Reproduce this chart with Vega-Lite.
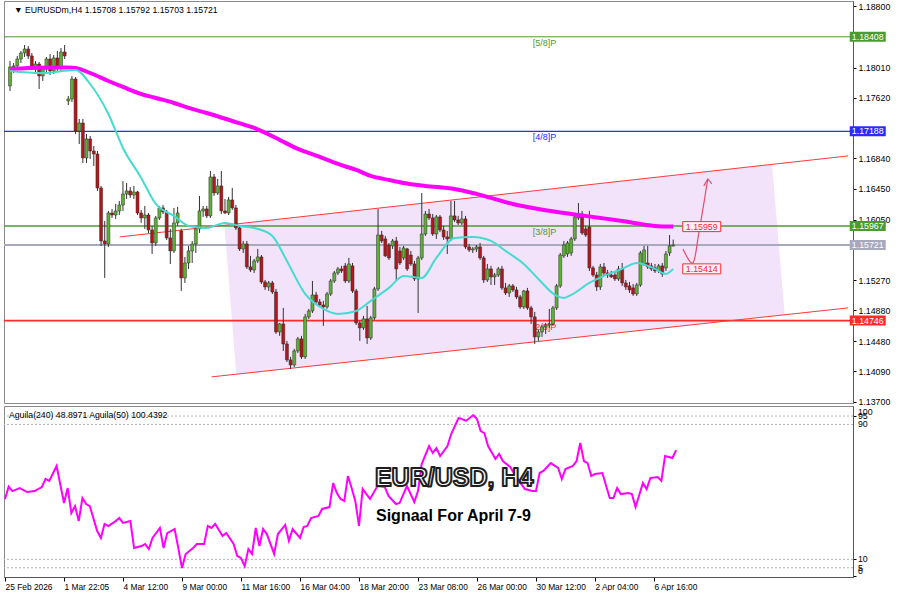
{
"$schema": "https://vega.github.io/schema/vega-lite/v6.json",
"background": "white",
"padding": 0,
"spacing": 3,
"bounds": "flush",
"config": {"view": {"stroke": "#8a8a8a", "strokeWidth": 1}, "font": "Liberation Sans",
 "axis": {"labelOverlap": false, "labelBound": false, "labelFlush": false, "grid": false, "labelColor": "#000000", "tickColor": "#000000", "domainColor": "#555555", "labelFont": "Liberation Sans"}},
"datasets": {
"candles": [
{"i":0,"o":1.17774,"h":1.18096,"l":1.17709,"c":1.18019},
{"i":1,"o":1.18019,"h":1.18070,"l":1.17941,"c":1.18032},
{"i":2,"o":1.18032,"h":1.18161,"l":1.17993,"c":1.18122},
{"i":3,"o":1.18122,"h":1.18225,"l":1.18070,"c":1.18199},
{"i":4,"o":1.18199,"h":1.18302,"l":1.18148,"c":1.18251},
{"i":5,"o":1.18251,"h":1.18290,"l":1.18122,"c":1.18161},
{"i":6,"o":1.18161,"h":1.18199,"l":1.17980,"c":1.18019},
{"i":7,"o":1.18019,"h":1.18096,"l":1.17954,"c":1.18057},
{"i":8,"o":1.18057,"h":1.18083,"l":1.17735,"c":1.17903},
{"i":9,"o":1.17903,"h":1.18019,"l":1.17838,"c":1.17993},
{"i":10,"o":1.17993,"h":1.18148,"l":1.17928,"c":1.18122},
{"i":11,"o":1.18122,"h":1.18186,"l":1.17915,"c":1.17967},
{"i":12,"o":1.17967,"h":1.18173,"l":1.17928,"c":1.18135},
{"i":13,"o":1.18135,"h":1.18225,"l":1.17967,"c":1.18019},
{"i":14,"o":1.18019,"h":1.18264,"l":1.17967,"c":1.18212},
{"i":15,"o":1.18212,"h":1.18302,"l":1.18122,"c":1.18161},
{"i":16,"o":1.17580,"h":1.17645,"l":1.17528,"c":1.17606},
{"i":17,"o":1.17606,"h":1.17903,"l":1.17567,"c":1.17864},
{"i":18,"o":1.17864,"h":1.17890,"l":1.17154,"c":1.17193},
{"i":19,"o":1.17193,"h":1.17348,"l":1.17025,"c":1.17296},
{"i":20,"o":1.17296,"h":1.17348,"l":1.16780,"c":1.16845},
{"i":21,"o":1.16845,"h":1.17154,"l":1.16780,"c":1.17090},
{"i":22,"o":1.17090,"h":1.17129,"l":1.16832,"c":1.16935},
{"i":23,"o":1.16935,"h":1.16999,"l":1.16742,"c":1.16896},
{"i":24,"o":1.16896,"h":1.16935,"l":1.16419,"c":1.16458},
{"i":25,"o":1.16458,"h":1.16484,"l":1.15710,"c":1.15774},
{"i":26,"o":1.15774,"h":1.16032,"l":1.15297,"c":1.15735},
{"i":27,"o":1.15735,"h":1.16161,"l":1.15697,"c":1.16135},
{"i":28,"o":1.16135,"h":1.16187,"l":1.16071,"c":1.16109},
{"i":29,"o":1.16109,"h":1.16251,"l":1.16058,"c":1.16161},
{"i":30,"o":1.16161,"h":1.16290,"l":1.16109,"c":1.16238},
{"i":31,"o":1.16238,"h":1.16548,"l":1.16161,"c":1.16380},
{"i":32,"o":1.16380,"h":1.16522,"l":1.16316,"c":1.16419},
{"i":33,"o":1.16419,"h":1.16471,"l":1.16329,"c":1.16367},
{"i":34,"o":1.16367,"h":1.16484,"l":1.16316,"c":1.16406},
{"i":35,"o":1.16406,"h":1.16419,"l":1.16109,"c":1.16135},
{"i":36,"o":1.16135,"h":1.16174,"l":1.16006,"c":1.16071},
{"i":37,"o":1.16071,"h":1.16226,"l":1.15929,"c":1.16109},
{"i":38,"o":1.16109,"h":1.16135,"l":1.15877,"c":1.15916},
{"i":39,"o":1.15916,"h":1.15968,"l":1.15606,"c":1.15748},
{"i":40,"o":1.15748,"h":1.16097,"l":1.15710,"c":1.16071},
{"i":41,"o":1.16071,"h":1.16226,"l":1.16045,"c":1.16200},
{"i":42,"o":1.16200,"h":1.16238,"l":1.16122,"c":1.16148},
{"i":43,"o":1.16148,"h":1.16174,"l":1.15787,"c":1.15813},
{"i":44,"o":1.15813,"h":1.15929,"l":1.15477,"c":1.15645},
{"i":45,"o":1.15645,"h":1.16200,"l":1.15619,"c":1.16006},
{"i":46,"o":1.16006,"h":1.16213,"l":1.15968,"c":1.16135},
{"i":47,"o":1.15903,"h":1.15929,"l":1.15129,"c":1.15297},
{"i":48,"o":1.15297,"h":1.15568,"l":1.15232,"c":1.15490},
{"i":49,"o":1.15490,"h":1.15710,"l":1.15413,"c":1.15645},
{"i":50,"o":1.15645,"h":1.15774,"l":1.15490,"c":1.15735},
{"i":51,"o":1.15735,"h":1.15968,"l":1.15619,"c":1.15929},
{"i":52,"o":1.15929,"h":1.16355,"l":1.15877,"c":1.16161},
{"i":53,"o":1.16161,"h":1.16226,"l":1.16084,"c":1.16187},
{"i":54,"o":1.16187,"h":1.16226,"l":1.16071,"c":1.16097},
{"i":55,"o":1.16097,"h":1.16677,"l":1.16071,"c":1.16600},
{"i":56,"o":1.16600,"h":1.16638,"l":1.16355,"c":1.16393},
{"i":57,"o":1.16393,"h":1.16574,"l":1.16367,"c":1.16484},
{"i":58,"o":1.16484,"h":1.16677,"l":1.16122,"c":1.16161},
{"i":59,"o":1.16161,"h":1.16316,"l":1.16122,"c":1.16135},
{"i":60,"o":1.16135,"h":1.16342,"l":1.16109,"c":1.16303},
{"i":61,"o":1.16303,"h":1.16458,"l":1.16174,"c":1.16200},
{"i":62,"o":1.16200,"h":1.16238,"l":1.15916,"c":1.15942},
{"i":63,"o":1.15942,"h":1.15980,"l":1.15645,"c":1.15671},
{"i":64,"o":1.15671,"h":1.15774,"l":1.15619,"c":1.15735},
{"i":65,"o":1.15735,"h":1.15774,"l":1.15413,"c":1.15439},
{"i":66,"o":1.15439,"h":1.15581,"l":1.15374,"c":1.15400},
{"i":67,"o":1.15400,"h":1.15542,"l":1.15361,"c":1.15516},
{"i":68,"o":1.15516,"h":1.15671,"l":1.15490,"c":1.15568},
{"i":69,"o":1.15568,"h":1.15593,"l":1.15219,"c":1.15245},
{"i":70,"o":1.15245,"h":1.15271,"l":1.15142,"c":1.15181},
{"i":71,"o":1.15181,"h":1.15258,"l":1.15129,"c":1.15232},
{"i":72,"o":1.15232,"h":1.15258,"l":1.15090,"c":1.15116},
{"i":73,"o":1.15116,"h":1.15155,"l":1.14574,"c":1.14600},
{"i":74,"o":1.14600,"h":1.14716,"l":1.14549,"c":1.14703},
{"i":75,"o":1.14703,"h":1.14910,"l":1.14355,"c":1.14445},
{"i":76,"o":1.14445,"h":1.14484,"l":1.14213,"c":1.14239},
{"i":77,"o":1.14239,"h":1.14278,"l":1.14123,"c":1.14174},
{"i":78,"o":1.14174,"h":1.14381,"l":1.14149,"c":1.14355},
{"i":79,"o":1.14355,"h":1.14536,"l":1.14329,"c":1.14510},
{"i":80,"o":1.14510,"h":1.14549,"l":1.14252,"c":1.14278},
{"i":81,"o":1.14278,"h":1.14832,"l":1.14252,"c":1.14794},
{"i":82,"o":1.14794,"h":1.14897,"l":1.14768,"c":1.14871},
{"i":83,"o":1.14871,"h":1.15258,"l":1.14845,"c":1.15077},
{"i":84,"o":1.15077,"h":1.15116,"l":1.14961,"c":1.14987},
{"i":85,"o":1.14987,"h":1.15026,"l":1.14923,"c":1.14948},
{"i":86,"o":1.14948,"h":1.15000,"l":1.14678,"c":1.14923},
{"i":87,"o":1.14923,"h":1.15116,"l":1.14897,"c":1.15090},
{"i":88,"o":1.15090,"h":1.15284,"l":1.15065,"c":1.15258},
{"i":89,"o":1.15258,"h":1.15387,"l":1.15232,"c":1.15361},
{"i":90,"o":1.15361,"h":1.15439,"l":1.15335,"c":1.15413},
{"i":91,"o":1.15413,"h":1.15452,"l":1.15361,"c":1.15387},
{"i":92,"o":1.15452,"h":1.15490,"l":1.15232,"c":1.15258},
{"i":93,"o":1.15258,"h":1.15555,"l":1.15232,"c":1.15477},
{"i":94,"o":1.15452,"h":1.15490,"l":1.15103,"c":1.15129},
{"i":95,"o":1.15129,"h":1.15155,"l":1.14690,"c":1.14716},
{"i":96,"o":1.14716,"h":1.14742,"l":1.14484,"c":1.14652},
{"i":97,"o":1.14652,"h":1.14807,"l":1.14626,"c":1.14768},
{"i":98,"o":1.14768,"h":1.14936,"l":1.14445,"c":1.14523},
{"i":99,"o":1.14523,"h":1.14807,"l":1.14497,"c":1.14781},
{"i":100,"o":1.14781,"h":1.15181,"l":1.14755,"c":1.15155},
{"i":101,"o":1.15155,"h":1.16187,"l":1.15129,"c":1.15851},
{"i":102,"o":1.15851,"h":1.15903,"l":1.15748,"c":1.15774},
{"i":103,"o":1.15800,"h":1.15839,"l":1.15568,"c":1.15581},
{"i":104,"o":1.15722,"h":1.15748,"l":1.15529,"c":1.15555},
{"i":105,"o":1.15710,"h":1.15800,"l":1.15671,"c":1.15774},
{"i":106,"o":1.15774,"h":1.15826,"l":1.15258,"c":1.15413},
{"i":107,"o":1.15645,"h":1.15697,"l":1.15464,"c":1.15490},
{"i":108,"o":1.15555,"h":1.15710,"l":1.15529,"c":1.15684},
{"i":109,"o":1.15671,"h":1.15684,"l":1.15387,"c":1.15413},
{"i":110,"o":1.15593,"h":1.15645,"l":1.15452,"c":1.15477},
{"i":111,"o":1.15477,"h":1.15516,"l":1.15258,"c":1.15284},
{"i":112,"o":1.15284,"h":1.15581,"l":1.14845,"c":1.15555},
{"i":113,"o":1.15555,"h":1.16393,"l":1.15529,"c":1.15864},
{"i":114,"o":1.15864,"h":1.16161,"l":1.15839,"c":1.16122},
{"i":115,"o":1.16122,"h":1.16187,"l":1.16045,"c":1.16071},
{"i":116,"o":1.16071,"h":1.16122,"l":1.15839,"c":1.15864},
{"i":117,"o":1.15864,"h":1.16109,"l":1.15800,"c":1.16084},
{"i":118,"o":1.16084,"h":1.16109,"l":1.15890,"c":1.15916},
{"i":119,"o":1.15916,"h":1.15968,"l":1.15787,"c":1.15826},
{"i":120,"o":1.15826,"h":1.15903,"l":1.15606,"c":1.15800},
{"i":121,"o":1.15800,"h":1.16290,"l":1.15774,"c":1.16097},
{"i":122,"o":1.16097,"h":1.16290,"l":1.16019,"c":1.16045},
{"i":123,"o":1.16045,"h":1.16097,"l":1.15980,"c":1.16006},
{"i":124,"o":1.16006,"h":1.16161,"l":1.15980,"c":1.16058},
{"i":125,"o":1.16058,"h":1.16097,"l":1.15671,"c":1.15697},
{"i":126,"o":1.15697,"h":1.15735,"l":1.15632,"c":1.15658},
{"i":127,"o":1.15658,"h":1.15697,"l":1.15619,"c":1.15671},
{"i":128,"o":1.15671,"h":1.15722,"l":1.15632,"c":1.15697},
{"i":129,"o":1.15697,"h":1.15748,"l":1.15529,"c":1.15555},
{"i":130,"o":1.15555,"h":1.15581,"l":1.15232,"c":1.15271},
{"i":131,"o":1.15271,"h":1.15477,"l":1.15245,"c":1.15413},
{"i":132,"o":1.15413,"h":1.15452,"l":1.15206,"c":1.15310},
{"i":133,"o":1.15310,"h":1.15361,"l":1.15206,"c":1.15335},
{"i":134,"o":1.15335,"h":1.15439,"l":1.15310,"c":1.15413},
{"i":135,"o":1.15413,"h":1.15452,"l":1.15142,"c":1.15168},
{"i":136,"o":1.15168,"h":1.15232,"l":1.15077,"c":1.15103},
{"i":137,"o":1.15103,"h":1.15219,"l":1.15052,"c":1.15194},
{"i":138,"o":1.15194,"h":1.15219,"l":1.15116,"c":1.15142},
{"i":139,"o":1.15142,"h":1.15181,"l":1.15026,"c":1.15052},
{"i":140,"o":1.15052,"h":1.15077,"l":1.14897,"c":1.14923},
{"i":141,"o":1.14923,"h":1.15142,"l":1.14897,"c":1.15129},
{"i":142,"o":1.15129,"h":1.15168,"l":1.14884,"c":1.14910},
{"i":143,"o":1.14910,"h":1.14936,"l":1.14703,"c":1.14794},
{"i":144,"o":1.14794,"h":1.14858,"l":1.14445,"c":1.14536},
{"i":145,"o":1.14536,"h":1.14626,"l":1.14484,"c":1.14600},
{"i":146,"o":1.14600,"h":1.14690,"l":1.14536,"c":1.14665},
{"i":147,"o":1.14665,"h":1.14716,"l":1.14574,"c":1.14690},
{"i":148,"o":1.14690,"h":1.14897,"l":1.14652,"c":1.14703},
{"i":149,"o":1.14703,"h":1.14936,"l":1.14678,"c":1.14910},
{"i":150,"o":1.14910,"h":1.15219,"l":1.14884,"c":1.15194},
{"i":151,"o":1.15194,"h":1.15619,"l":1.15168,"c":1.15593},
{"i":152,"o":1.15581,"h":1.15774,"l":1.15555,"c":1.15722},
{"i":153,"o":1.15606,"h":1.15774,"l":1.15568,"c":1.15748},
{"i":154,"o":1.15619,"h":1.15826,"l":1.15581,"c":1.15800},
{"i":155,"o":1.15800,"h":1.16109,"l":1.15774,"c":1.16084},
{"i":156,"o":1.16071,"h":1.16264,"l":1.16045,"c":1.16122},
{"i":157,"o":1.16122,"h":1.16161,"l":1.15851,"c":1.15877},
{"i":158,"o":1.15929,"h":1.15968,"l":1.15826,"c":1.15851},
{"i":159,"o":1.15955,"h":1.16161,"l":1.15387,"c":1.15426},
{"i":160,"o":1.15426,"h":1.15452,"l":1.15310,"c":1.15335},
{"i":161,"o":1.15335,"h":1.15374,"l":1.15129,"c":1.15181},
{"i":162,"o":1.15181,"h":1.15477,"l":1.15142,"c":1.15439},
{"i":163,"o":1.15439,"h":1.15490,"l":1.15323,"c":1.15361},
{"i":164,"o":1.15361,"h":1.15400,"l":1.15297,"c":1.15335},
{"i":165,"o":1.15335,"h":1.15387,"l":1.15297,"c":1.15310},
{"i":166,"o":1.15335,"h":1.15387,"l":1.15258,"c":1.15284},
{"i":167,"o":1.15284,"h":1.15452,"l":1.15258,"c":1.15413},
{"i":168,"o":1.15413,"h":1.15490,"l":1.15194,"c":1.15232},
{"i":169,"o":1.15232,"h":1.15271,"l":1.15142,"c":1.15181},
{"i":170,"o":1.15194,"h":1.15245,"l":1.15103,"c":1.15142},
{"i":171,"o":1.15168,"h":1.15219,"l":1.15065,"c":1.15090},
{"i":172,"o":1.15090,"h":1.15232,"l":1.15065,"c":1.15206},
{"i":173,"o":1.15206,"h":1.15645,"l":1.15181,"c":1.15619},
{"i":174,"o":1.15477,"h":1.15710,"l":1.15452,"c":1.15658},
{"i":175,"o":1.15490,"h":1.15710,"l":1.15413,"c":1.15439},
{"i":176,"o":1.15452,"h":1.15490,"l":1.15387,"c":1.15413},
{"i":177,"o":1.15426,"h":1.15477,"l":1.15361,"c":1.15387},
{"i":178,"o":1.15387,"h":1.15477,"l":1.15361,"c":1.15452},
{"i":179,"o":1.15452,"h":1.15490,"l":1.15310,"c":1.15348},
{"i":180,"o":1.15426,"h":1.15645,"l":1.15387,"c":1.15606},
{"i":181,"o":1.15619,"h":1.15851,"l":1.15581,"c":1.15710},
{"i":182,"o":1.15708,"h":1.15792,"l":1.15703,"c":1.15721}
],
"ma240": [
{"i":0,"v":1.17993},{"i":5,"v":1.18006},{"i":11,"v":1.18012},{"i":16,"v":1.18012},{"i":18,"v":1.18006},{"i":22,"v":1.17941},{"i":27,"v":1.17838},{"i":31,"v":1.17761},{"i":36,"v":1.17670},{"i":40,"v":1.17619},{"i":45,"v":1.17554},{"i":49,"v":1.17490},{"i":54,"v":1.17425},{"i":61,"v":1.17322},{"i":67,"v":1.17232},{"i":73,"v":1.17103},{"i":79,"v":1.16961},{"i":85,"v":1.16858},{"i":90,"v":1.16767},{"i":95,"v":1.16690},{"i":99,"v":1.16613},{"i":104,"v":1.16561},{"i":108,"v":1.16522},{"i":114,"v":1.16484},{"i":122,"v":1.16445},{"i":127,"v":1.16393},{"i":132,"v":1.16329},{"i":138,"v":1.16251},{"i":145,"v":1.16187},{"i":154,"v":1.16122},{"i":162,"v":1.16071},{"i":168,"v":1.16032},{"i":177,"v":1.15968},{"i":182,"v":1.15959}
],
"ma50": [
{"i":0,"v":1.17967},{"i":9,"v":1.17941},{"i":18,"v":1.17980},{"i":22,"v":1.17799},{"i":27,"v":1.17412},{"i":31,"v":1.16974},{"i":36,"v":1.16587},{"i":40,"v":1.16251},{"i":45,"v":1.16097},{"i":49,"v":1.15968},{"i":54,"v":1.15942},{"i":59,"v":1.16006},{"i":63,"v":1.15968},{"i":68,"v":1.15929},{"i":72,"v":1.15839},{"i":76,"v":1.15516},{"i":81,"v":1.15090},{"i":86,"v":1.14897},{"i":90,"v":1.14832},{"i":95,"v":1.14871},{"i":99,"v":1.15000},{"i":104,"v":1.15168},{"i":108,"v":1.15323},{"i":113,"v":1.15297},{"i":117,"v":1.15555},{"i":122,"v":1.15813},{"i":127,"v":1.15826},{"i":132,"v":1.15774},{"i":136,"v":1.15645},{"i":141,"v":1.15477},{"i":145,"v":1.15284},{"i":150,"v":1.15065},{"i":152,"v":1.15039},{"i":154,"v":1.15077},{"i":159,"v":1.15232},{"i":163,"v":1.15323},{"i":168,"v":1.15413},{"i":172,"v":1.15490},{"i":177,"v":1.15413},{"i":180,"v":1.15348},{"i":182,"v":1.15414}
],
"aguila": [
{"i":0,"v":45.8},{"i":1,"v":53.1},{"i":2,"v":50.5},{"i":4,"v":52.3},{"i":6,"v":49.9},{"i":8,"v":50.5},{"i":10,"v":52.9},{"i":11,"v":57.7},{"i":12,"v":56.5},{"i":14,"v":65.4},{"i":16,"v":43.4},{"i":17,"v":52.3},{"i":18,"v":37.5},{"i":19,"v":41.6},{"i":20,"v":32.7},{"i":21,"v":46.4},{"i":22,"v":42.8},{"i":23,"v":41.6},{"i":25,"v":26.8},{"i":26,"v":22.7},{"i":27,"v":31.0},{"i":28,"v":29.8},{"i":30,"v":32.7},{"i":31,"v":34.5},{"i":32,"v":31.6},{"i":34,"v":32.7},{"i":35,"v":16.7},{"i":37,"v":17.9},{"i":38,"v":19.1},{"i":39,"v":16.1},{"i":40,"v":22.7},{"i":42,"v":28.6},{"i":43,"v":16.7},{"i":44,"v":25.6},{"i":46,"v":28.0},{"i":47,"v":16.7},{"i":48,"v":4.9},{"i":49,"v":13.2},{"i":51,"v":16.7},{"i":52,"v":19.1},{"i":54,"v":19.1},{"i":55,"v":29.8},{"i":56,"v":28.6},{"i":57,"v":31.0},{"i":59,"v":23.8},{"i":60,"v":25.6},{"i":62,"v":19.1},{"i":63,"v":12.0},{"i":64,"v":10.8},{"i":65,"v":6.0},{"i":66,"v":16.1},{"i":67,"v":13.2},{"i":68,"v":28.6},{"i":69,"v":17.9},{"i":70,"v":28.0},{"i":71,"v":25.0},{"i":73,"v":13.2},{"i":74,"v":25.0},{"i":76,"v":30.4},{"i":77,"v":20.9},{"i":78,"v":28.0},{"i":80,"v":22.7},{"i":81,"v":29.2},{"i":82,"v":29.8},{"i":83,"v":34.5},{"i":85,"v":35.7},{"i":86,"v":39.9},{"i":88,"v":41.0},{"i":89,"v":55.3},{"i":90,"v":49.3},{"i":91,"v":45.8},{"i":92,"v":44.6},{"i":93,"v":59.4},{"i":94,"v":52.3},{"i":95,"v":44.6},{"i":96,"v":29.8},{"i":97,"v":51.7},{"i":99,"v":45.8},{"i":101,"v":53.5},{"i":103,"v":52.9},{"i":104,"v":47.6},{"i":106,"v":42.8},{"i":107,"v":43.4},{"i":109,"v":53.5},{"i":111,"v":44.0},{"i":112,"v":50.5},{"i":113,"v":66.5},{"i":115,"v":77.2},{"i":116,"v":73.1},{"i":117,"v":76.0},{"i":118,"v":71.3},{"i":120,"v":77.2},{"i":121,"v":84.3},{"i":123,"v":93.8},{"i":124,"v":93.2},{"i":125,"v":92.1},{"i":127,"v":95.6},{"i":128,"v":93.2},{"i":129,"v":86.1},{"i":130,"v":84.9},{"i":131,"v":77.2},{"i":133,"v":69.5},{"i":134,"v":72.5},{"i":135,"v":68.3},{"i":137,"v":64.8},{"i":139,"v":57.7},{"i":141,"v":51.7},{"i":143,"v":50.5},{"i":144,"v":50.5},{"i":145,"v":61.2},{"i":146,"v":62.4},{"i":148,"v":67.1},{"i":150,"v":64.2},{"i":151,"v":57.7},{"i":152,"v":63.6},{"i":154,"v":65.4},{"i":155,"v":68.3},{"i":156,"v":79.0},{"i":157,"v":68.3},{"i":158,"v":67.1},{"i":159,"v":59.4},{"i":160,"v":60.6},{"i":162,"v":61.2},{"i":164,"v":46.4},{"i":165,"v":46.4},{"i":166,"v":52.3},{"i":167,"v":48.7},{"i":169,"v":49.3},{"i":170,"v":48.7},{"i":171,"v":41.0},{"i":173,"v":55.3},{"i":174,"v":51.7},{"i":175,"v":58.2},{"i":177,"v":58.8},{"i":178,"v":56.5},{"i":179,"v":71.3},{"i":181,"v":70.1},{"i":182,"v":74.8}
],
"aglevels": [{"lv":100},{"lv":95},{"lv":90},{"lv":10},{"lv":5},{"lv":0}],
"levels": [
{"kind":"5/8","price":1.18408,"label":"[5/8]P"},
{"kind":"4/8","price":1.17188,"label":"[4/8]P"},
{"kind":"3/8","price":1.15967,"label":"[3/8]P"},
{"kind":"2/8","price":1.14746,"label":"[2/8]P"},
{"kind":"cur","price":1.15721,"label":""}
],
"channel": [
{"i":58.85,"top":1.15980,"bottom":1.15980},
{"i":62.1,"top":1.15993,"bottom":1.14048},
{"i":209.1,"top":1.16762,"bottom":1.14804},
{"i":212.6,"top":1.14822,"bottom":1.14822}
],
"chlines": [
{"line":"upper","i":30.1,"price":1.15826},
{"line":"upper","i":229.97,"price":1.16871},
{"line":"lower","i":55.3,"price":1.14020},
{"line":"lower","i":229.97,"price":1.14910}
],
"arrow": [
{"i":184.7,"price":1.15671},
{"i":187.4,"price":1.15490},
{"i":189.0,"price":1.15864},
{"i":191.5,"price":1.16574}
],
"arrowhead": [
{"i":190.4,"price":1.16484},
{"i":191.5,"price":1.16574},
{"i":192.6,"price":1.16509}
],
"malabels": [{"price":1.15959},{"price":1.15414}]
},
"vconcat": [
{
"width": 849,
"height": 402,
"layer": [
{"data":{"name":"channel"},"mark":{"type":"area","color":"#f2e2fa","opacity":1},
 "encoding":{"x":{"field":"i","type":"quantitative","scale":{"domain":[-0.271,229.97],"nice":false,"zero":false},"axis":null},
  "y":{"field":"top","type":"quantitative","scale":{"domain":[1.13683,1.1887],"nice":false,"zero":false},"axis":{"orient":"right","title":null}},
  "y2":{"field":"bottom"}}},
{"data":{"name":"levels"},"mark":{"type":"rule"},
 "encoding":{"y":{"field":"price","type":"quantitative","scale":{"domain":[1.13683,1.1887],"nice":false,"zero":false},"axis":{"orient":"right","title":null}},
  "color":{"field":"kind","type":"nominal","scale":{"domain":["5/8","4/8","3/8","2/8","cur"],"range":["#4c9a32","#2b2bff","#4c9a32","#ff2b2b","#a9a9bd"]},"legend":null},
  "strokeWidth":{"field":"kind","type":"nominal","scale":{"domain":["5/8","4/8","3/8","2/8","cur"],"range":[1,2,1,1,1]},"legend":null}}},
{"data":{"name":"chlines"},"mark":{"type":"line","color":"#ff3a3a","strokeWidth":1},
 "encoding":{"x":{"field":"i","type":"quantitative","scale":{"domain":[-0.271,229.97],"nice":false,"zero":false},"axis":null},
  "y":{"field":"price","type":"quantitative","scale":{"domain":[1.13683,1.1887],"nice":false,"zero":false},"axis":{"orient":"right","title":null}},
  "detail":{"field":"line"}}},
{"data":{"name":"levels"},"transform":[{"filter":"datum.kind != 'cur'"}],
 "mark":{"type":"text","align":"left","baseline":"alphabetic","dy":9,"fontSize":9,"font":"Liberation Sans"},
 "encoding":{"x":{"datum":143.46,"type":"quantitative","scale":{"domain":[-0.271,229.97],"nice":false,"zero":false},"axis":null},
  "y":{"field":"price","type":"quantitative","scale":{"domain":[1.13683,1.1887],"nice":false,"zero":false},"axis":{"orient":"right","title":null}},
  "text":{"field":"label"},
  "color":{"field":"kind","type":"nominal","scale":{"domain":["5/8","4/8","3/8","2/8","cur"],"range":["#4c9a32","#3a3aff","#4c9a32","#ff2b2b","#a9a9bd"]},"legend":null}}},
{"data":{"name":"candles"},"mark":{"type":"rule","color":"#333333","strokeWidth":1},
 "encoding":{"x":{"field":"i","type":"quantitative","scale":{"domain":[-0.271,229.97],"nice":false,"zero":false},"axis":null},
  "y":{"field":"l","type":"quantitative","scale":{"domain":[1.13683,1.1887],"nice":false,"zero":false},
   "axis":{"orient":"right","values":[1.188,1.1801,1.1762,1.1684,1.1645,1.1605,1.1527,1.1488,1.1448,1.1409,1.137],"format":".5f","title":null,"grid":false,"labelFontSize":8.8,"labelColor":"#000000","labelFont":"Liberation Sans","tickSize":3,"tickColor":"#000000","domainColor":"#555555","labelPadding":2,"labelOverlap":false,"labelBound":false,"labelFlush":false}},
  "y2":{"field":"h"}}},
{"data":{"name":"candles"},"mark":{"type":"bar","size":3,"stroke":"#2a2a2a","strokeWidth":0.5},
 "encoding":{"x":{"field":"i","type":"quantitative","scale":{"domain":[-0.271,229.97],"nice":false,"zero":false},"axis":null},
  "y":{"field":"o","type":"quantitative","scale":{"domain":[1.13683,1.1887],"nice":false,"zero":false},"axis":{"orient":"right","title":null}},
  "y2":{"field":"c"},
  "color":{"condition":{"test":"datum.c >= datum.o","value":"#5db233"},"value":"#b3161b"}}},
{"data":{"name":"ma240"},"mark":{"type":"line","color":"#ff00ff","strokeWidth":4,"interpolate":"monotone"},
 "encoding":{"x":{"field":"i","type":"quantitative","scale":{"domain":[-0.271,229.97],"nice":false,"zero":false},"axis":null},
  "y":{"field":"v","type":"quantitative","scale":{"domain":[1.13683,1.1887],"nice":false,"zero":false},"axis":{"orient":"right","title":null}}}},
{"data":{"name":"ma50"},"mark":{"type":"line","color":"#45dbd0","strokeWidth":2,"interpolate":"monotone"},
 "encoding":{"x":{"field":"i","type":"quantitative","scale":{"domain":[-0.271,229.97],"nice":false,"zero":false},"axis":null},
  "y":{"field":"v","type":"quantitative","scale":{"domain":[1.13683,1.1887],"nice":false,"zero":false},"axis":{"orient":"right","title":null}}}},
{"data":{"name":"arrow"},"mark":{"type":"line","color":"#e0506a","strokeWidth":1.2,"interpolate":"cardinal"},
 "encoding":{"x":{"field":"i","type":"quantitative","scale":{"domain":[-0.271,229.97],"nice":false,"zero":false},"axis":null},
  "y":{"field":"price","type":"quantitative","scale":{"domain":[1.13683,1.1887],"nice":false,"zero":false},"axis":{"orient":"right","title":null}}}},
{"data":{"name":"arrowhead"},"mark":{"type":"line","color":"#e0506a","strokeWidth":1.2},
 "encoding":{"x":{"field":"i","type":"quantitative","scale":{"domain":[-0.271,229.97],"nice":false,"zero":false},"axis":null},
  "y":{"field":"price","type":"quantitative","scale":{"domain":[1.13683,1.1887],"nice":false,"zero":false},"axis":{"orient":"right","title":null}}}},
{"data":{"name":"malabels"},"mark":{"type":"point","shape":"M-1,-0.263H1V0.263H-1Z","size":1444,"filled":true,"fill":"#fff0f5","stroke":"#ff3030","strokeWidth":1,"opacity":1},
 "encoding":{"x":{"datum":189.83,"type":"quantitative","scale":{"domain":[-0.271,229.97],"nice":false,"zero":false},"axis":null},
  "y":{"field":"price","type":"quantitative","scale":{"domain":[1.13683,1.1887],"nice":false,"zero":false},"axis":{"orient":"right","title":null}}}},
{"data":{"name":"malabels"},"mark":{"type":"text","align":"center","baseline":"middle","fontSize":8.8,"color":"#e8283a","font":"Liberation Sans"},
 "encoding":{"x":{"datum":189.83,"type":"quantitative","scale":{"domain":[-0.271,229.97],"nice":false,"zero":false},"axis":null},
  "y":{"field":"price","type":"quantitative","scale":{"domain":[1.13683,1.1887],"nice":false,"zero":false},"axis":{"orient":"right","title":null}},
  "text":{"field":"price","type":"quantitative","format":".5f"}}},
{"data":{"name":"levels"},"mark":{"type":"point","shape":"M-1,-0.2778H1V0.2778H-1Z","size":1296,"filled":true,"opacity":1,"strokeWidth":0},
 "encoding":{"x":{"datum":235.39,"type":"quantitative","scale":{"domain":[-0.271,229.97],"nice":false,"zero":false},"axis":null},
  "y":{"field":"price","type":"quantitative","scale":{"domain":[1.13683,1.1887],"nice":false,"zero":false},"axis":{"orient":"right","title":null}},
  "color":{"field":"kind","type":"nominal","scale":{"domain":["5/8","4/8","3/8","2/8","cur"],"range":["#3d8c26","#2020ff","#3d8c26","#ff2020","#000000"]},"legend":null}}},
{"data":{"name":"levels"},"mark":{"type":"text","align":"center","baseline":"middle","fontSize":8.8,"color":"#ffffff","font":"Liberation Sans"},
 "encoding":{"x":{"datum":235.39,"type":"quantitative","scale":{"domain":[-0.271,229.97],"nice":false,"zero":false},"axis":null},
  "y":{"field":"price","type":"quantitative","scale":{"domain":[1.13683,1.1887],"nice":false,"zero":false},"axis":{"orient":"right","title":null}},
  "text":{"field":"price","type":"quantitative","format":".5f"}}},
{"data":{"values":[{"t":"▼ EURUSDm,H4  1.15708 1.15792 1.15703 1.15721"}]},"mark":{"type":"text","align":"left","baseline":"alphabetic","fontSize":8.7,"color":"#000000","font":"Liberation Sans"},
 "encoding":{"x":{"datum":1.08,"type":"quantitative","scale":{"domain":[-0.271,229.97],"nice":false,"zero":false},"axis":null},
  "y":{"datum":1.18715,"type":"quantitative","scale":{"domain":[1.13683,1.1887],"nice":false,"zero":false},"axis":{"orient":"right","title":null}},
  "text":{"field":"t"}}}
]
},
{
"width": 849,
"height": 171,
"layer": [
{"data":{"values":[{"lv":95},{"lv":90},{"lv":10},{"lv":5}]},"mark":{"type":"rule","color":"#b5b5b5","strokeDash":[2,2],"strokeWidth":1},
 "encoding":{"y":{"field":"lv","type":"quantitative","scale":{"domain":[-0.47,100.95],"nice":false,"zero":false},"axis":{"orient":"right","title":null}}}},
{"data":{"name":"aguila"},"mark":{"type":"line","color":"#ff00ff","strokeWidth":2},
 "encoding":{"x":{"field":"i","type":"quantitative","scale":{"domain":[-0.271,229.97],"nice":false,"zero":false},
   "axis":{"orient":"bottom","values":[0,16,32,48,64,80,96,112,128,144,160,176],"labelExpr":"datum.value == 0 ? '25 Feb 2026' : datum.value == 16 ? '1 Mar 22:05' : datum.value == 32 ? '4 Mar 12:00' : datum.value == 48 ? '9 Mar 00:00' : datum.value == 64 ? '11 Mar 16:00' : datum.value == 80 ? '16 Mar 04:00' : datum.value == 96 ? '18 Mar 20:00' : datum.value == 112 ? '23 Mar 08:00' : datum.value == 128 ? '26 Mar 00:00' : datum.value == 144 ? '30 Mar 12:00' : datum.value == 160 ? '2 Apr 04:00' : '6 Apr 16:00'","title":null,"grid":false,"labelAlign":"left","labelBaseline":"top","labelFontSize":8.4,"labelColor":"#000000","labelFont":"Liberation Sans","tickSize":4,"tickColor":"#000000","domainColor":"#555555","labelPadding":1,"labelOverlap":false,"labelFlush":false,"labelBound":false}},
  "y":{"field":"v","type":"quantitative","scale":{"domain":[-0.47,100.95],"nice":false,"zero":false},
   "axis":{"orient":"right","values":[0,5,10,90,95,100],"labels":false,"title":null,"grid":false,"tickSize":3,"tickColor":"#000000","domainColor":"#555555"}}}},
{"data":{"name":"aglevels"},"transform":[{"filter":"datum.lv > 0 && datum.lv < 100"}],"mark":{"type":"text","align":"left","baseline":"middle","fontSize":8.8,"color":"#000000","font":"Liberation Sans"},
 "encoding":{"x":{"datum":231.3,"type":"quantitative","scale":{"domain":[-0.271,229.97],"nice":false,"zero":false},"axis":{"title":null}},
  "y":{"field":"lv","type":"quantitative","scale":{"domain":[-0.47,100.95],"nice":false,"zero":false},"axis":{"orient":"right","title":null}},
  "text":{"field":"lv","type":"quantitative","format":"d"}}},
{"data":{"name":"aglevels"},"transform":[{"filter":"datum.lv == 100"}],"mark":{"type":"text","align":"left","baseline":"top","fontSize":8.8,"color":"#000000","font":"Liberation Sans"},
 "encoding":{"x":{"datum":231.3,"type":"quantitative","scale":{"domain":[-0.271,229.97],"nice":false,"zero":false},"axis":{"title":null}},
  "y":{"field":"lv","type":"quantitative","scale":{"domain":[-0.47,100.95],"nice":false,"zero":false},"axis":{"orient":"right","title":null}},
  "text":{"field":"lv","type":"quantitative","format":"d"}}},
{"data":{"name":"aglevels"},"transform":[{"filter":"datum.lv == 0"}],"mark":{"type":"text","align":"left","baseline":"bottom","fontSize":8.8,"color":"#000000","font":"Liberation Sans"},
 "encoding":{"x":{"datum":231.3,"type":"quantitative","scale":{"domain":[-0.271,229.97],"nice":false,"zero":false},"axis":{"title":null}},
  "y":{"field":"lv","type":"quantitative","scale":{"domain":[-0.47,100.95],"nice":false,"zero":false},"axis":{"orient":"right","title":null}},
  "text":{"field":"lv","type":"quantitative","format":"d"}}},
{"data":{"values":[{"t":"EUR/USD, H4"}]},"mark":{"type":"text","align":"center","baseline":"alphabetic","font":"Liberation Sans","fontWeight":"bold","fontSize":25,"fill":"#ffffff","stroke":"#1e1e1e","strokeWidth":2,"strokeJoin":"round"},
 "encoding":{"x":{"datum":121.8,"type":"quantitative","scale":{"domain":[-0.271,229.97],"nice":false,"zero":false},"axis":{"title":null}},
  "y":{"datum":53.5,"type":"quantitative","scale":{"domain":[-0.47,100.95],"nice":false,"zero":false},"axis":{"orient":"right","title":null}},
  "text":{"field":"t"}}},
{"data":{"values":[{"t":"Signaal For April 7-9"}]},"mark":{"type":"text","align":"center","baseline":"alphabetic","font":"Liberation Sans","fontWeight":"bold","fontSize":16,"color":"#000000"},
 "encoding":{"x":{"datum":121.63,"type":"quantitative","scale":{"domain":[-0.271,229.97],"nice":false,"zero":false},"axis":{"title":null}},
  "y":{"datum":32.8,"type":"quantitative","scale":{"domain":[-0.47,100.95],"nice":false,"zero":false},"axis":{"orient":"right","title":null}},
  "text":{"field":"t"}}},
{"data":{"values":[{"t":"Aguila(240) 48.8971  Aguila(50) 100.4392"}]},"mark":{"type":"text","align":"left","baseline":"alphabetic","fontSize":8.7,"color":"#000000","font":"Liberation Sans"},
 "encoding":{"x":{"datum":1.08,"type":"quantitative","scale":{"domain":[-0.271,229.97],"nice":false,"zero":false},"axis":{"title":null}},
  "y":{"datum":93.8,"type":"quantitative","scale":{"domain":[-0.47,100.95],"nice":false,"zero":false},"axis":{"orient":"right","title":null}},
  "text":{"field":"t"}}}
]
}
]
}
